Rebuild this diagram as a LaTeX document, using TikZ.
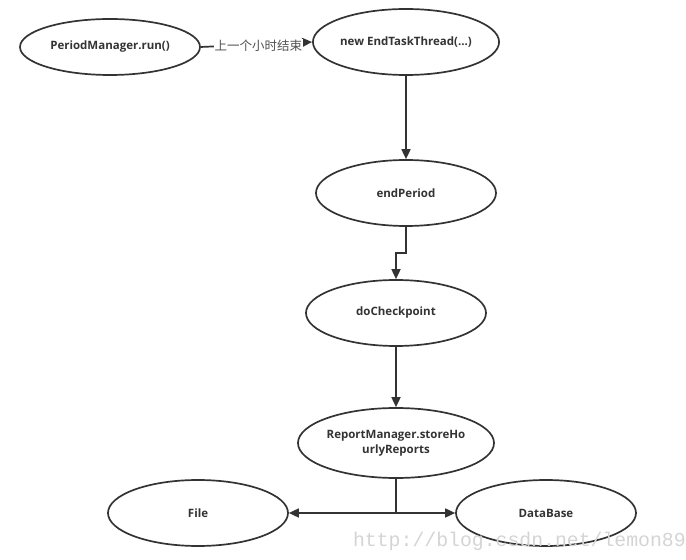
\documentclass[tikz,border=0pt]{standalone}
\usepackage{fontspec}
\setmainfont{Open Sans}
\setmonofont{Liberation Mono}
\newfontfamily\cjk{Noto Sans CJK SC}
\usetikzlibrary{shapes.geometric,arrows.meta}
\definecolor{ink}{HTML}{333333}
\definecolor{wm}{HTML}{D4D4D4}
\begin{document}
\begin{tikzpicture}[x=1pt,y=1pt,
  ell/.style={ellipse,draw=ink,line width=1.7pt,minimum width=180pt,minimum height=66pt,inner sep=0pt,align=center,font=\bfseries\fontsize{11.5}{15}\selectfont,text=ink},
  conn/.style={draw=ink,line width=1.7pt},
  arr/.style={conn,-{Triangle[length=10pt,width=9pt]}}]
\useasboundingbox (0,0) rectangle (686,560);
\node[ell,minimum height=56pt] (pm) at (110,513) {PeriodManager.run()};
\node[ell] (et) at (406,518) {new EndTaskThread(...)};
\node[ell] (ep) at (406,367) {endPeriod};
\node[ell] (dc) at (396,247) {doCheckpoint};
\node[ell,minimum height=70pt] (rm) at (396,117) {ReportManager.storeHo\\urlyReports};
\node[ell] (fi) at (198,47) {File};
\node[ell] (db) at (546,47) {DataBase};
\coordinate (j1) at (406,307);
\coordinate (j2) at (396,307);
\coordinate (j3) at (396,47);
\draw[arr] (pm.east) -- node[fill=white,inner sep=0.5pt,xshift=2pt,yshift=-1pt,font=\cjk\fontsize{12.5}{14}\selectfont,text=ink!85] {上一个小时结束} (et.west);
\draw[arr] (et.south) -- (ep.north);
\draw[arr] (ep.south) -- (j1) -- (j2) -- (dc.north);
\draw[arr] (dc.south) -- (rm.north);
\draw[conn] (rm.south) -- (j3);
\draw[arr] (j3) -- (fi.east);
\draw[arr] (j3) -- (db.west);
\node[anchor=east,inner sep=0pt,text=wm,font=\ttfamily\fontsize{19.8}{20}\selectfont] (w) at (686,19) {http://blog.csdn.net/lemon89};
\end{tikzpicture}
\end{document}
